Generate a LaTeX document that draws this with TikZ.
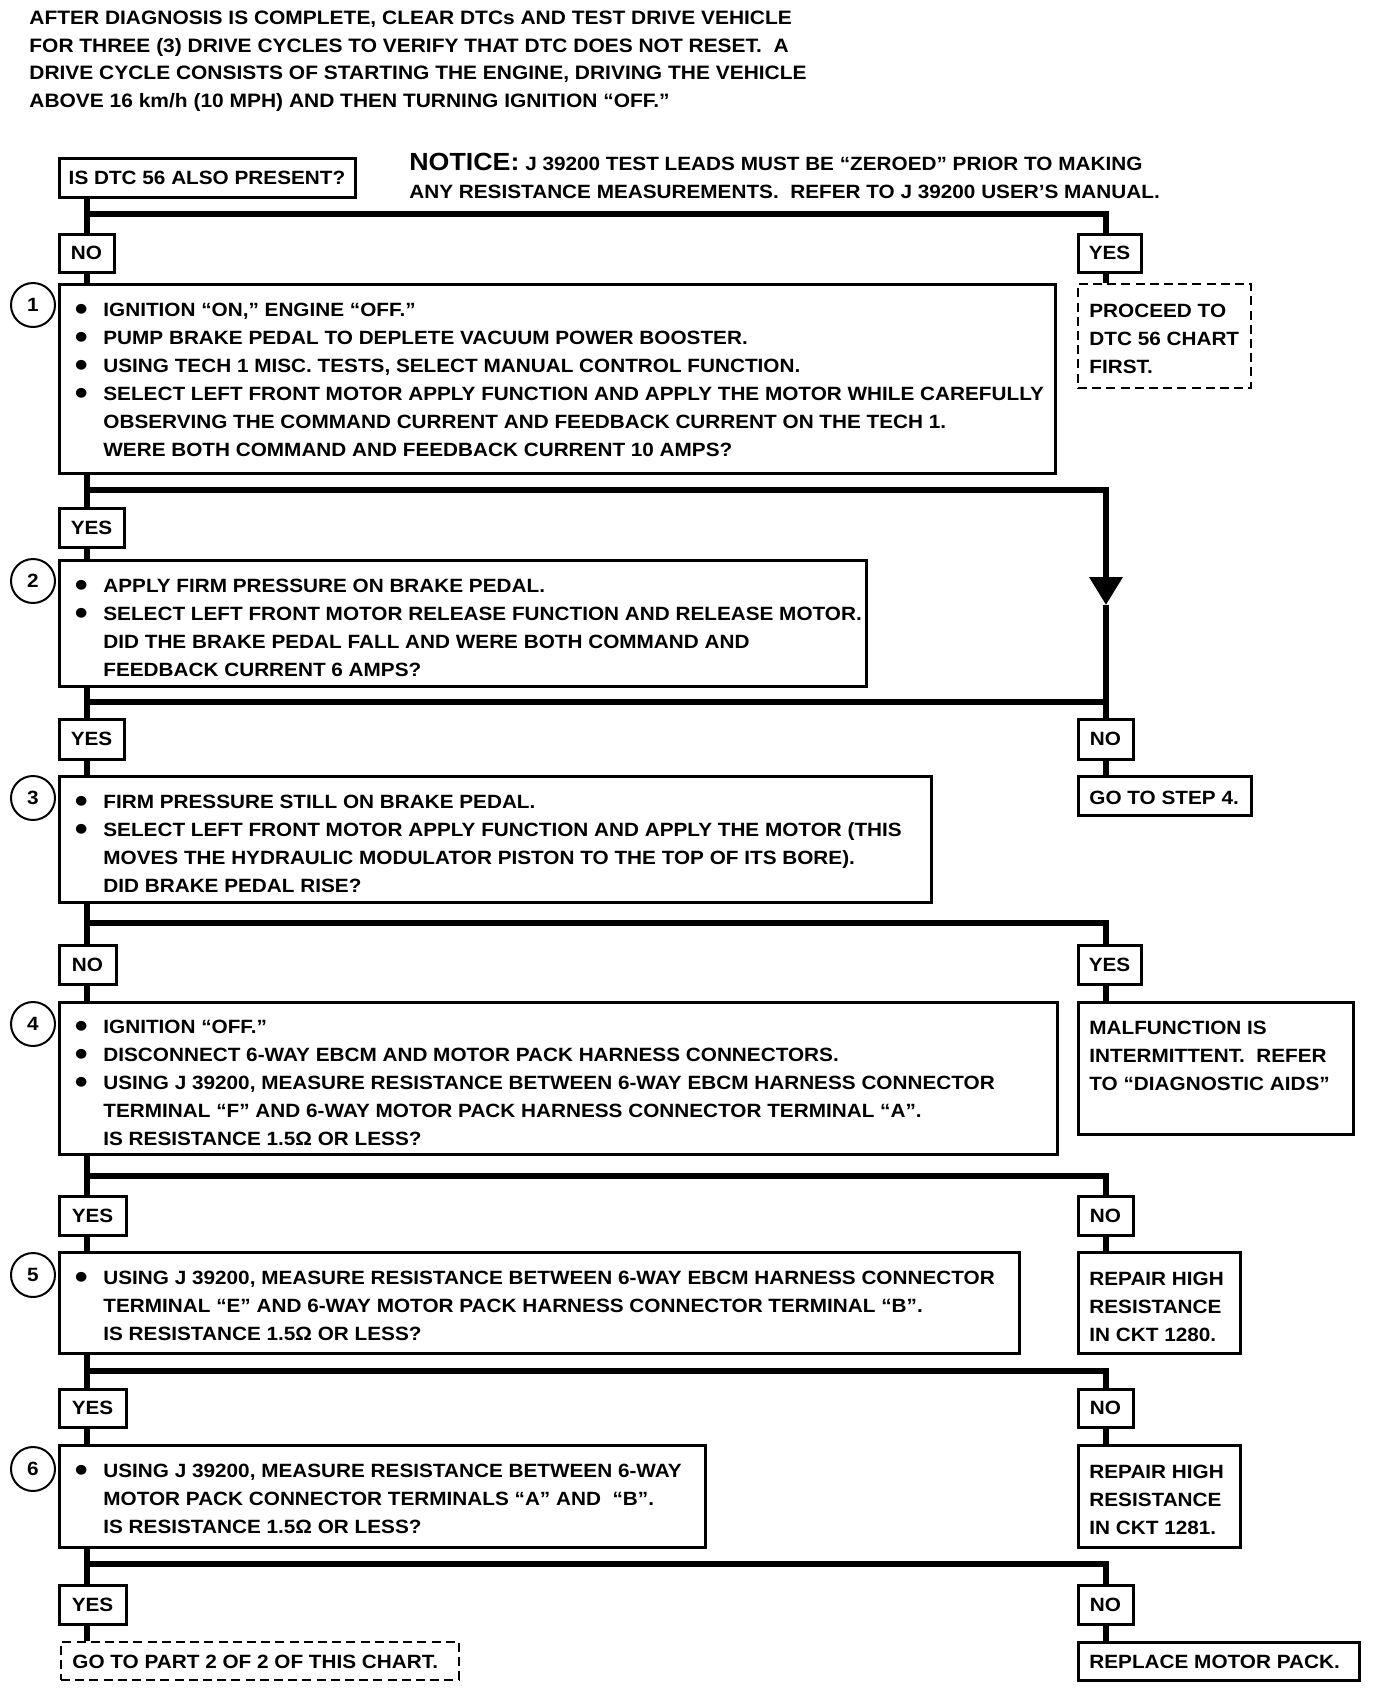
\documentclass[tikz,border=0pt]{standalone}
\usepackage{fontspec}
\setmainfont{Liberation Sans}[FakeStretch=1.08]
\usetikzlibrary{arrows.meta}
\newcommand\bodyfont{\bfseries\fontsize{9.6}{14}\selectfont}
\newcommand\hdfont{\bfseries\fontsize{9.7}{13.75}\selectfont}
\newcommand\blt{\makebox[14.5pt][l]{\hspace{0.2pt}\smash{\fontsize{17}{17}\selectfont\raisebox{-2.2pt}{•}}}}
\newcommand\ind{\hspace*{14.5pt}}
\begin{document}
\begin{tikzpicture}[x=0.5pt,y=-0.5pt,
  conn/.style={line width=3.4pt, line join=miter},
  box/.style={draw, line width=1.5pt, rectangle, inner sep=0pt},
  dbox/.style={draw, line width=1.2pt, dash pattern=on 4.5pt off 2.6pt, rectangle, inner sep=0pt},
  lbl/.style={box, font=\bodyfont},
  txt/.style={inner sep=0pt, anchor=base west, align=left, font=\bodyfont},
  num/.style={draw, circle, line width=1pt, minimum size=22pt, inner sep=0pt, font=\bodyfont}]
\useasboundingbox[fill=white] (0,0) rectangle (1376,1688);
% header (anchor is at the baseline of the last line)
\node[txt, font=\hdfont] (hdr) at (29,107) {AFTER DIAGNOSIS IS COMPLETE, CLEAR DTCs AND TEST DRIVE VEHICLE\\
FOR THREE (3) DRIVE CYCLES TO VERIFY THAT DTC DOES NOT RESET.\ \ A\\
DRIVE CYCLE CONSISTS OF STARTING THE ENGINE, DRIVING THE VEHICLE\\
ABOVE 16 km/h (10 MPH) AND THEN TURNING IGNITION “OFF.”};
% notice
\node[txt] (nt1) at (409,170) {{\fontsize{12.4}{13}\selectfont NOTICE:} J 39200 TEST LEADS MUST BE “ZEROED” PRIOR TO MAKING};
\node[txt] (nt2) at (409,198) {ANY RESISTANCE MEASUREMENTS.\ \ REFER TO J 39200 USER’S MANUAL.};
% coordinates of columns and bars
\coordinate (T) at (87,0);
\coordinate (R) at (1106,0);
\coordinate (b1) at (0,214);
\coordinate (b2) at (0,490);
\coordinate (ah) at (0,605);
\coordinate (b3) at (0,702);
\coordinate (b4) at (0,923);
\coordinate (b5) at (0,1176);
\coordinate (b6) at (0,1371);
\coordinate (b7) at (0,1564);
% boxes
\node[lbl, minimum width=148pt, minimum height=19.5pt] (q0) at (207,177.5) {IS DTC 56 ALSO PRESENT?};
\node[lbl, minimum width=27.5pt, minimum height=19pt] (no1) at (86.5,253) {NO};
\node[lbl, minimum width=31.5pt, minimum height=19pt] (yes1) at (1109.5,253) {YES};
\node[box, minimum width=498pt, minimum height=94.5pt] (s1) at (557,378.5) {};
\node[dbox, minimum width=86.5pt, minimum height=52pt] (pr) at (1164.5,336) {};
\node[lbl, minimum width=32.5pt, minimum height=19.5pt] (yes2) at (91.5,527.5) {YES};
\node[box, minimum width=403.5pt, minimum height=63pt] (s2) at (462.5,623) {};
\node[lbl, minimum width=32.5pt, minimum height=20pt] (yes3) at (91.5,739) {YES};
\node[lbl, minimum width=27.5pt, minimum height=20pt] (no3) at (1105.5,739) {NO};
\node[box, minimum width=86.5pt, minimum height=19.5pt] (g4) at (1164.5,795.5) {};
\node[box, minimum width=436pt, minimum height=63pt] (s3) at (495,839) {};
\node[lbl, minimum width=28.5pt, minimum height=19.5pt] (no4) at (87.5,964.5) {NO};
\node[lbl, minimum width=31.5pt, minimum height=19.5pt] (yes4) at (1109.5,964.5) {YES};
\node[box, minimum width=499pt, minimum height=76pt] (s4) at (558,1078) {};
\node[box, minimum width=137.5pt, minimum height=66pt] (mf) at (1215.5,1068) {};
\node[lbl, minimum width=33.5pt, minimum height=19.5pt] (yes5) at (92.5,1215.5) {YES};
\node[lbl, minimum width=27.5pt, minimum height=19.5pt] (no5) at (1105.5,1215.5) {NO};
\node[box, minimum width=480pt, minimum height=50.5pt] (s5) at (539,1302.5) {};
\node[box, minimum width=81pt, minimum height=50.5pt] (r1) at (1159,1302.5) {};
\node[lbl, minimum width=33.5pt, minimum height=19pt] (yes6) at (92.5,1408) {YES};
\node[lbl, minimum width=27.5pt, minimum height=19pt] (no6) at (1105.5,1408) {NO};
\node[box, minimum width=323pt, minimum height=51pt] (s6) at (382,1496) {};
\node[box, minimum width=81pt, minimum height=51pt] (r2) at (1159,1496) {};
\node[lbl, minimum width=33.5pt, minimum height=19.5pt] (yes7) at (92.5,1604.5) {YES};
\node[lbl, minimum width=27.5pt, minimum height=19.5pt] (no7) at (1105.5,1604.5) {NO};
\node[dbox, minimum width=199pt, minimum height=19pt] (p2) at (260,1661) {};
\node[box, minimum width=140.5pt, minimum height=19pt] (rep) at (1218.5,1661) {};
% step numbers
\node[num] (c1) at (33,305) {1};
\node[num] (c2) at (33,581) {2};
\node[num] (c3) at (33,798) {3};
\node[num] (c4) at (33,1024) {4};
\node[num] (c5) at (33,1275) {5};
\node[num] (c6) at (33,1469) {6};
% texts (anchor at baseline of the last line)
\node[txt] (t1) at (74,456) {\blt IGNITION “ON,” ENGINE “OFF.”\\
\blt PUMP BRAKE PEDAL TO DEPLETE VACUUM POWER BOOSTER.\\
\blt USING TECH 1 MISC. TESTS, SELECT MANUAL CONTROL FUNCTION.\\
\blt SELECT LEFT FRONT MOTOR APPLY FUNCTION AND APPLY THE MOTOR WHILE CAREFULLY\\
\ind OBSERVING THE COMMAND CURRENT AND FEEDBACK CURRENT ON THE TECH 1.\\
\ind WERE BOTH COMMAND AND FEEDBACK CURRENT 10 AMPS?};
\node[txt] (tpr) at (1089,373) {PROCEED TO\\DTC 56 CHART\\FIRST.};
\node[txt] (t2) at (74,676) {\blt APPLY FIRM PRESSURE ON BRAKE PEDAL.\\
\blt SELECT LEFT FRONT MOTOR RELEASE FUNCTION AND RELEASE MOTOR.\\
\ind DID THE BRAKE PEDAL FALL AND WERE BOTH COMMAND AND\\
\ind FEEDBACK CURRENT 6 AMPS?};
\node[txt] (tg4) at (1089,804) {GO TO STEP 4.};
\node[txt] (t3) at (74,892) {\blt FIRM PRESSURE STILL ON BRAKE PEDAL.\\
\blt SELECT LEFT FRONT MOTOR APPLY FUNCTION AND APPLY THE MOTOR (THIS\\
\ind MOVES THE HYDRAULIC MODULATOR PISTON TO THE TOP OF ITS BORE).\\
\ind DID BRAKE PEDAL RISE?};
\node[txt] (t4) at (74,1145) {\blt IGNITION “OFF.”\\
\blt DISCONNECT 6-WAY EBCM AND MOTOR PACK HARNESS CONNECTORS.\\
\blt USING J 39200, MEASURE RESISTANCE BETWEEN 6-WAY EBCM HARNESS CONNECTOR\\
\ind TERMINAL “F” AND 6-WAY MOTOR PACK HARNESS CONNECTOR TERMINAL “A”.\\
\ind IS RESISTANCE 1.5Ω OR LESS?};
\node[txt] (tmf) at (1089,1090) {MALFUNCTION IS\\INTERMITTENT.\ \ REFER\\TO “DIAGNOSTIC AIDS”};
\node[txt] (t5) at (74,1340) {\blt USING J 39200, MEASURE RESISTANCE BETWEEN 6-WAY EBCM HARNESS CONNECTOR\\
\ind TERMINAL “E” AND 6-WAY MOTOR PACK HARNESS CONNECTOR TERMINAL “B”.\\
\ind IS RESISTANCE 1.5Ω OR LESS?};
\node[txt] (tr1) at (1089,1341) {REPAIR HIGH\\RESISTANCE\\IN CKT 1280.};
\node[txt] (t6) at (74,1533) {\blt USING J 39200, MEASURE RESISTANCE BETWEEN 6-WAY\\
\ind MOTOR PACK CONNECTOR TERMINALS “A” AND \ “B”.\\
\ind IS RESISTANCE 1.5Ω OR LESS?};
\node[txt] (tr2) at (1089,1534) {REPAIR HIGH\\RESISTANCE\\IN CKT 1281.};
\node[txt] (tp2) at (72,1668) {GO TO PART 2 OF 2 OF THIS CHART.};
\node[txt] (trep) at (1089,1668) {REPLACE MOTOR PACK.};
% connectors
\draw[conn] (q0.south -| T) -- (no1.north -| T);
\draw[conn] (T |- b1) -- (R |- b1) -- (yes1.north -| R);
\draw[conn] (yes1.south -| R) -- (pr.north -| R);
\draw[conn] (no1.south -| T) -- (s1.north -| T);
\draw[conn] (s1.south -| T) -- (yes2.north -| T);
\draw[conn, -{Triangle[width=16pt,length=14pt]}] (T |- b2) -- (R |- b2) -- (R |- ah);
\draw[conn] (R |- ah) -- (no3.north -| R);
\draw[conn] (yes2.south -| T) -- (s2.north -| T);
\draw[conn] (s2.south -| T) -- (yes3.north -| T);
\draw[conn] (T |- b3) -- (R |- b3);
\draw[conn] (no3.south -| R) -- (g4.north -| R);
\draw[conn] (yes3.south -| T) -- (s3.north -| T);
\draw[conn] (s3.south -| T) -- (no4.north -| T);
\draw[conn] (T |- b4) -- (R |- b4) -- (yes4.north -| R);
\draw[conn] (yes4.south -| R) -- (mf.north -| R);
\draw[conn] (no4.south -| T) -- (s4.north -| T);
\draw[conn] (s4.south -| T) -- (yes5.north -| T);
\draw[conn] (T |- b5) -- (R |- b5) -- (no5.north -| R);
\draw[conn] (no5.south -| R) -- (r1.north -| R);
\draw[conn] (yes5.south -| T) -- (s5.north -| T);
\draw[conn] (s5.south -| T) -- (yes6.north -| T);
\draw[conn] (T |- b6) -- (R |- b6) -- (no6.north -| R);
\draw[conn] (no6.south -| R) -- (r2.north -| R);
\draw[conn] (yes6.south -| T) -- (s6.north -| T);
\draw[conn] (s6.south -| T) -- (yes7.north -| T);
\draw[conn] (T |- b7) -- (R |- b7) -- (no7.north -| R);
\draw[conn] (no7.south -| R) -- (rep.north -| R);
\draw[conn] (yes7.south -| T) -- (p2.north -| T);
\end{tikzpicture}
\end{document}
